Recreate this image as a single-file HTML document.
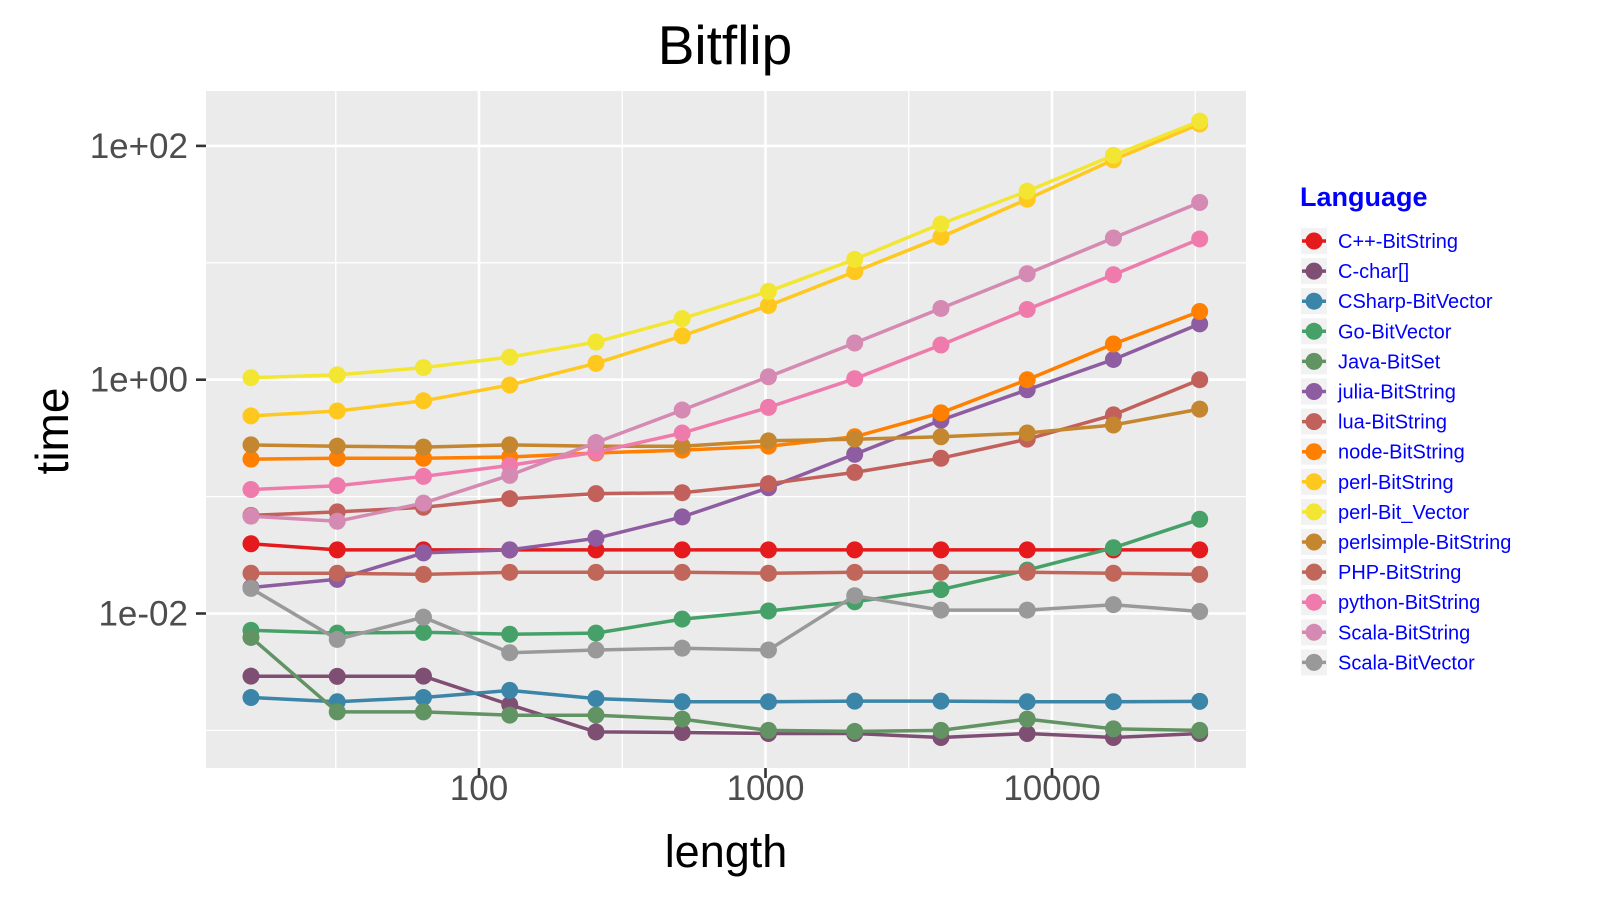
<!DOCTYPE html>
<html><head><meta charset="utf-8"><style>
html,body{margin:0;padding:0;background:#fff;}
svg{display:block;font-family:"Liberation Sans",sans-serif;}
</style></head><body>
<svg id="chart" width="1599" height="900" viewBox="0 0 1599 900" xmlns="http://www.w3.org/2000/svg">
<rect x="0" y="0" width="1599" height="900" fill="#fff"/>
<text x="725" y="64" font-size="55" text-anchor="middle" fill="#000">Bitflip</text>
<rect x="206" y="91" width="1040" height="677" fill="#EBEBEB"/>
<g id="grid"></g>
<g id="axes"></g>
<g id="series"></g>
<text x="726" y="867" font-size="45" text-anchor="middle" fill="#000">length</text>
<text transform="translate(68,431) rotate(-90)" font-size="46" text-anchor="middle" fill="#000">time</text>
<g id="legend"></g>
</svg>
<script>
const lengths = [16,32,64,128,256,512,1024,2048,4096,8192,16384,32768];
const seriesNames = ["C++-BitString","C-char[]","CSharp-BitVector","Go-BitVector","Java-BitSet","julia-BitString","lua-BitString","node-BitString","perl-BitString","perl-Bit_Vector","perlsimple-BitString","PHP-BitString","python-BitString","Scala-BitString","Scala-BitVector"];
const seriesColors = ["#E41A1C","#7E4F73","#3A85A8","#46A169","#629363","#8E5CA0","#C2615B","#FF7F00","#FFC81F","#F2E633","#C4862E","#C1665A","#EE7BAC","#D48AB2","#999999"];
const cppBitString = [0.0395,0.035,0.035,0.035,0.035,0.035,0.035,0.035,0.035,0.035,0.035,0.035];
const cChar = [0.00291,0.0029,0.00291,0.00166,0.00097,0.00096,0.00094,0.00094,0.00087,0.00094,0.00087,0.00094];
const csharpBitVector = [0.00191,0.00176,0.00191,0.0022,0.00187,0.00176,0.00176,0.00178,0.00178,0.00176,0.00176,0.00177];
const goBitVector = [0.00718,0.0068,0.0069,0.00665,0.0068,0.00896,0.0105,0.0126,0.016,0.0235,0.0365,0.064];
const javaBitSet = [0.00624,0.00144,0.00144,0.00135,0.00135,0.00125,0.001,0.00098,0.001,0.00125,0.00103,0.001];
const juliaBitString = [0.0167,0.0196,0.033,0.035,0.044,0.067,0.119,0.23,0.45,0.82,1.49,3.0];
const luaBitString = [0.069,0.074,0.081,0.096,0.106,0.108,0.129,0.161,0.213,0.31,0.5,1.0];
const nodeBitString = [0.209,0.213,0.213,0.218,0.236,0.25,0.27,0.325,0.52,1.0,2.02,3.83];
const perlBitString = [0.49,0.54,0.66,0.90,1.38,2.37,4.3,8.4,16.6,35,76,154];
const perlBitVector = [1.04,1.1,1.27,1.56,2.1,3.33,5.7,10.7,21.5,41,83,163];
const perlsimpleBitString = [0.277,0.27,0.265,0.277,0.27,0.27,0.3,0.31,0.325,0.35,0.41,0.56];
const phpBitString = [0.0221,0.0221,0.0216,0.0225,0.0225,0.0225,0.0221,0.0225,0.0225,0.0225,0.0221,0.0216];
const pythonBitString = [0.115,0.124,0.149,0.185,0.24,0.35,0.58,1.02,1.98,3.99,7.9,16];
const scalaBitString = [0.068,0.0615,0.088,0.152,0.29,0.55,1.06,2.06,4.07,8.06,16.3,32.8];
const scalaBitVector = [0.0164,0.006,0.0093,0.00462,0.00487,0.00505,0.00487,0.0142,0.0107,0.0107,0.0119,0.0104];
const allSeries = [cppBitString,cChar,csharpBitVector,goBitVector,javaBitSet,juliaBitString,luaBitString,nodeBitString,perlBitString,perlBitVector,perlsimpleBitString,phpBitString,pythonBitString,scalaBitString,scalaBitVector];
const xTickValues = [100,1000,10000];
const xTickLabels = ["100","1000","10000"];
const yTickValues = [100,1,0.01];
const yTickLabels = ["1e+02","1e+00","1e-02"];
const xMinorValues = [31.6228,316.228,3162.28,31622.8];
const yMinorValues = [10,0.1,0.001];

const NS="http://www.w3.org/2000/svg";
function xScale(v){return 479+(Math.log10(v)-2)*286.5;}
function yScale(v){return 379.7-Math.log10(v)*116.9;}
function mk(tag,attrs,parent){const e=document.createElementNS(NS,tag);for(const k in attrs)e.setAttribute(k,attrs[k]);parent.appendChild(e);return e;}
const grid=document.getElementById('grid'),axes=document.getElementById('axes'),ser=document.getElementById('series'),leg=document.getElementById('legend');
const L=206,R=1246,T=91,B=768;
xMinorValues.forEach(v=>{const x=xScale(v);if(x<R){const e=mk('line',{x1:x,x2:x,y1:T,y2:B,stroke:'#fff','stroke-width':1.3},grid);

}});
yMinorValues.forEach(v=>{const y=yScale(v);const e=mk('line',{x1:L,x2:R,y1:y,y2:y,stroke:'#fff','stroke-width':1.3},grid);

});
xTickValues.forEach((v,i)=>{const x=xScale(v);
const g=mk('line',{x1:x,x2:x,y1:T,y2:B,stroke:'#fff','stroke-width':2.6},grid);


const t=mk('line',{x1:x,x2:x,y1:B,y2:B+10,stroke:'#333','stroke-width':2.6},axes);


const tx=mk('text',{x:x,y:800,'font-size':35,'text-anchor':'middle',fill:'#4D4D4D'},axes);tx.textContent=xTickLabels[i];

});
yTickValues.forEach((v,i)=>{const y=yScale(v);
const g=mk('line',{x1:L,x2:R,y1:y,y2:y,stroke:'#fff','stroke-width':2.6},grid);


const t=mk('line',{x1:L-10,x2:L,y1:y,y2:y,stroke:'#333','stroke-width':2.6},axes);


const tx=mk('text',{x:188,y:y+12,'font-size':35,'text-anchor':'end',fill:'#4D4D4D'},axes);tx.textContent=yTickLabels[i];

});
allSeries.forEach((vals,si)=>{const c=seriesColors[si];
const g=mk('g',{},ser);


const pts=vals.map((v,i)=>xScale(lengths[i]).toFixed(1)+','+yScale(v).toFixed(1)).join(' ');
const pl=mk('polyline',{points:pts,fill:'none',stroke:c,'stroke-width':3.5,'stroke-linejoin':'round'},g);


vals.forEach((v,i)=>{const p=mk('circle',{cx:xScale(lengths[i]),cy:yScale(v),r:8.5,fill:c},g);

});});
const lt=mk('text',{x:1300,y:206,'font-size':27,'font-weight':'bold',fill:'#0000FF'},leg);lt.textContent='Language';


seriesNames.forEach((n,i)=>{const cy=241+i*30.1;
const g=mk('g',{},leg);


mk('rect',{x:1301,y:cy-13,width:26,height:26,fill:'#F2F2F2'},g);
mk('line',{x1:1302,x2:1326,y1:cy,y2:cy,stroke:seriesColors[i],'stroke-width':3.5},g);
mk('circle',{cx:1314,cy:cy,r:8.5,fill:seriesColors[i]},g);
const t=mk('text',{x:1338,y:cy+7,'font-size':20,fill:'#0000FF'},g);t.textContent=n;

});
</script>
</body></html>
